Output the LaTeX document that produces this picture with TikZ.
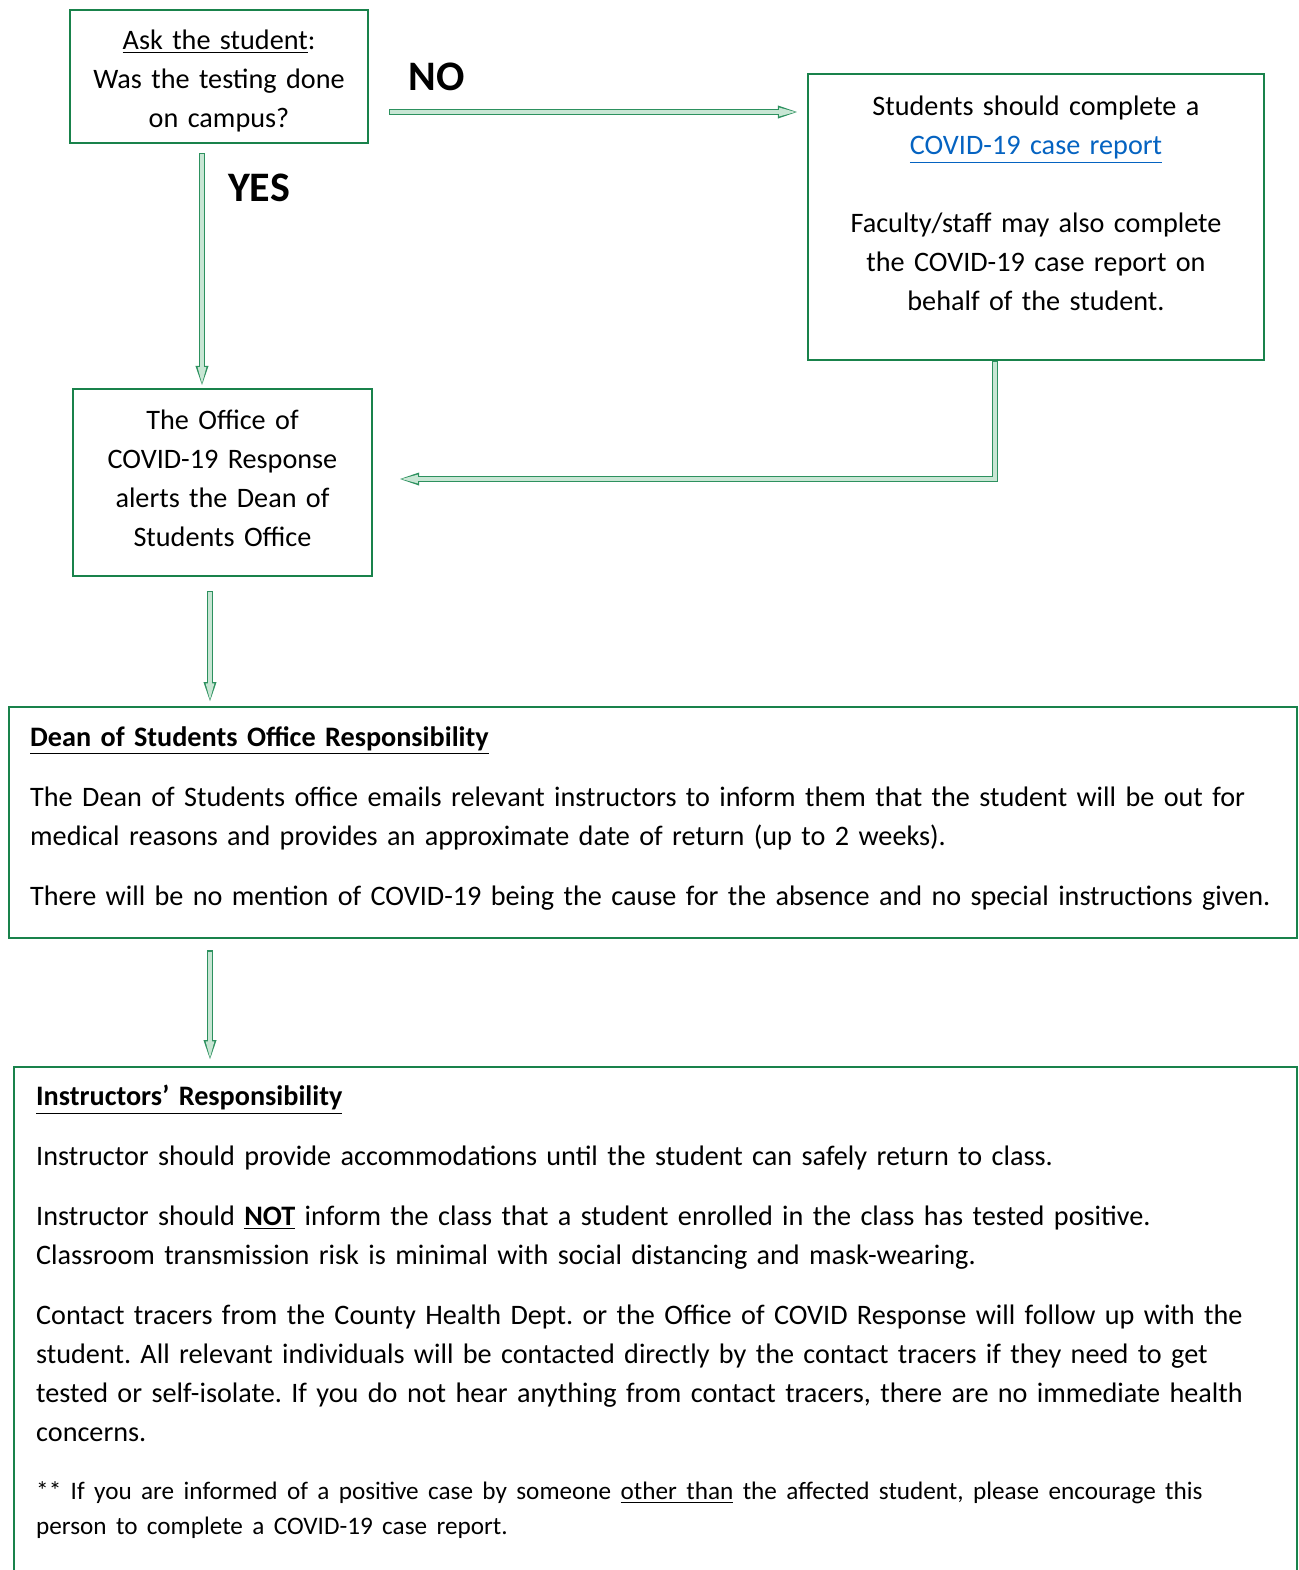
\documentclass[tikz,border=0pt]{standalone}
\usepackage{fontspec}
\setmainfont{Carlito}
\frenchspacing
\usetikzlibrary{arrows.meta,calc}
\definecolor{boxgreen}{RGB}{25,130,75}
\definecolor{arrowline}{RGB}{45,145,95}
\definecolor{arrowfill}{RGB}{200,230,212}
\definecolor{linkblue}{RGB}{5,99,193}
\tikzstyle{box} = [draw=boxgreen, line width=1.2pt, inner sep=0pt]
\tikzstyle{line} = [draw=arrowline, line width=2.8pt, -{Triangle[length=11pt,width=5.5pt]},
  postaction={draw=arrowfill, line width=1.7pt, shorten <=0.6pt, shorten >=1.3pt, -{Triangle[length=9pt,width=3.8pt]}}]

\begin{document}
\begin{tikzpicture}
  [x=0.5pt,y=-0.5pt,every node/.style={font=\fontsize{14.1}{19.5}\selectfont}]
  \useasboundingbox (0,0) rectangle (1299,1570);
  \clip (0,0) rectangle (1299,1570);

  \node (aBox) [box, minimum width=149pt, minimum height=66.5pt, text width=140pt, align=center] at (219,76.5)
    {\rule{0pt}{14pt}\underline{Ask the student}:\\ Was the testing done\\ on campus?};
  \node (bBox) [box, minimum width=228pt, minimum height=143pt, text width=220pt, align=center] at (1036,217)
    {Students should complete a\\ \textcolor{linkblue}{\underline{COVID-19 case report}}\\[19.5pt]
     Faculty/staff may also complete\\ the COVID-19 case report on\\ behalf of the student.\\[-6pt]\mbox{}};
  \node (cBox) [box, minimum width=149.5pt, minimum height=93.5pt, text width=140pt, align=center] at (222.5,482.5)
    {The Office of\\ COVID-19 Response\\ alerts the Dean of\\ Students Office\\[-15pt]\mbox{}};

  \node (dBox) [box, anchor=north west, minimum width=644pt, minimum height=115.5pt, text width=623pt, inner xsep=10.5pt, align=left] at (8,706)
    {\underline{\textbf{Dean of Students Office Responsibility}}\\[10.5pt]
     The Dean of Students office emails relevant instructors to inform them that the student will be out for\\
     medical reasons and provides an approximate date of return (up to 2 weeks).\\[10.5pt]
     There will be no mention of COVID-19 being the cause for the absence and no special instructions given.\\[-13pt]\mbox{}};

  \node (eBox) [box, anchor=north west, minimum width=641.5pt, text width=619.5pt, inner xsep=11pt, inner ysep=9pt, align=left] at (13,1066)
    {\underline{\textbf{Instructors’ Responsibility}}\\[10.5pt]
     Instructor should provide accommodations until the student can safely return to class.\\[10.5pt]
     Instructor should \underline{\textbf{NOT}} inform the class that a student enrolled in the class has tested positive.\\
     Classroom transmission risk is minimal with social distancing and mask-wearing.\\[10.5pt]
     Contact tracers from the County Health Dept. or the Office of COVID Response will follow up with the\\
     student. All relevant individuals will be contacted directly by the contact tracers if they need to get\\
     tested or self-isolate. If you do not hear anything from contact tracers, there are no immediate health\\
     concerns.\par\vspace{11.5pt}
     {\fontsize{12.6}{17.5}\selectfont ** If you are informed of a positive case by someone \underline{other than} the affected student, please encourage this\\
     person to complete a COVID-19 case report.\\[40pt]\mbox{}\par}};

  \node (noLabel) [font=\fontsize{21}{25}\selectfont\bfseries] at (437,77) {NO};
  \node (yesLabel) [font=\fontsize{21}{25}\selectfont\bfseries] at (259,188) {YES};

  \coordinate (noStart) at ($(aBox.east)+(20,35.5)$);
  \coordinate (noEnd) at ($(noStart -| bBox.west)+(-7,0)$);
  \coordinate (yesStart) at ($(aBox.south)+(-17,9)$);
  \coordinate (yesEnd) at ($(yesStart |- cBox.north)+(0,0)$);
  \coordinate (elbowStart) at ($(bBox.south west)+(188,0)$);
  \coordinate (elbowEnd) at ($(cBox.east)+(24,-3.5)$);
  \coordinate (cStart) at ($(cBox.south)+(-12.5,14)$);
  \coordinate (cEnd) at ($(cStart |- dBox.north)+(0,-2)$);
  \coordinate (dStart) at ($(dBox.south west)+(202,11)$);
  \coordinate (dEnd) at ($(dStart |- eBox.north)+(0,-4)$);

  \path [line] (noStart) -- (noEnd);
  \path [line] (yesStart) -- (yesEnd);
  \path [line] (elbowStart) |- (elbowEnd);
  \path [line] (cStart) -- (cEnd);
  \path [line] (dStart) -- (dEnd);

\end{tikzpicture}
\end{document}
